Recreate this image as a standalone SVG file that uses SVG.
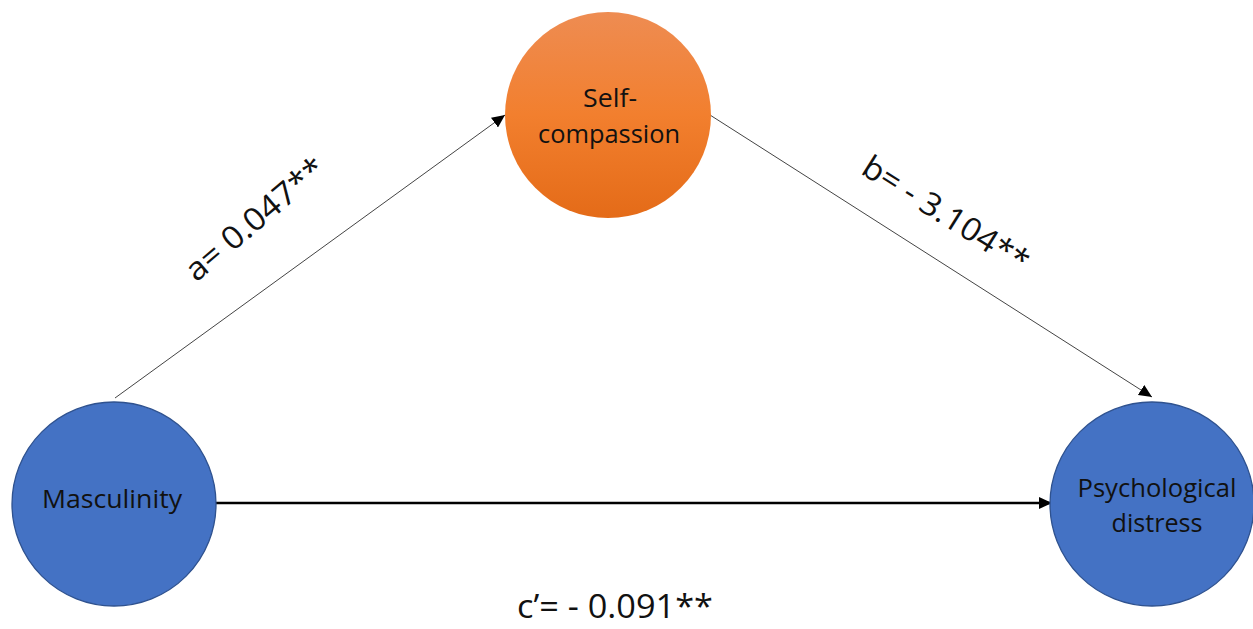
<svg xmlns="http://www.w3.org/2000/svg" width="1253" height="629" viewBox="0 0 1253 629">
<defs>
<style>
.blue{fill:#4472C4;stroke:#2F528F;stroke-width:1.3}
.orange{fill:url(#og);stroke:none}
.nt{font-family:"Open Sans","Liberation Sans",sans-serif;font-size:25px;fill:#111;text-anchor:middle}
.lab{font-family:"Open Sans","Liberation Sans",sans-serif;font-size:32px;fill:#111;text-anchor:middle}
.thin{stroke:#444;stroke-width:1;fill:none}
.thick{stroke:#000;stroke-width:2.6;fill:none}
</style>
<linearGradient id="og" x1="0" y1="0" x2="0" y2="1">
<stop offset="0" stop-color="#EE8C52"/>
<stop offset="0.5" stop-color="#F27F2E"/>
<stop offset="1" stop-color="#E46B18"/>
</linearGradient>
<marker id="ah" markerUnits="userSpaceOnUse" markerWidth="14" markerHeight="12" refX="13" refY="6" orient="auto">
<path d="M0,0 L13,6 L0,12 Z" fill="#000"/>
</marker>
</defs>
<g id="connectors">
<line class="thin" x1="115" y1="398" x2="505" y2="115" marker-end="url(#ah)"/>
<line class="thin" x1="710" y1="115" x2="1152" y2="397" marker-end="url(#ah)"/>
<line class="thick" x1="215" y1="503" x2="1052" y2="503" marker-end="url(#ah)"/>
</g>
<g id="node-self-compassion">
<circle class="orange" cx="608" cy="115" r="103"/>
<text class="nt" x="610" y="107" textLength="54" lengthAdjust="spacingAndGlyphs">Self-</text>
<text class="nt" x="609" y="143" textLength="142" lengthAdjust="spacingAndGlyphs">compassion</text>
</g>
<g id="node-masculinity">
<circle class="blue" cx="114" cy="504" r="102"/>
<text class="nt" x="112" y="508" textLength="140" lengthAdjust="spacingAndGlyphs">Masculinity</text>
</g>
<g id="node-psychological-distress">
<circle class="blue" cx="1152" cy="504" r="102"/>
<text class="nt" x="1157" y="497" textLength="159" lengthAdjust="spacingAndGlyphs">Psychological</text>
<text class="nt" x="1157" y="532" textLength="91" lengthAdjust="spacingAndGlyphs">distress</text>
</g>
<g id="labels">
<text class="lab" transform="translate(255,219) rotate(-40)" x="0" y="11" textLength="172" lengthAdjust="spacingAndGlyphs">a= 0.047**</text>
<text class="lab" transform="translate(946,214) rotate(32)" x="0" y="11" textLength="190" lengthAdjust="spacingAndGlyphs">b= - 3.104**</text>
<text class="lab" x="615" y="618" textLength="196" lengthAdjust="spacingAndGlyphs">c’= - 0.091**</text>
</g>
</svg>
